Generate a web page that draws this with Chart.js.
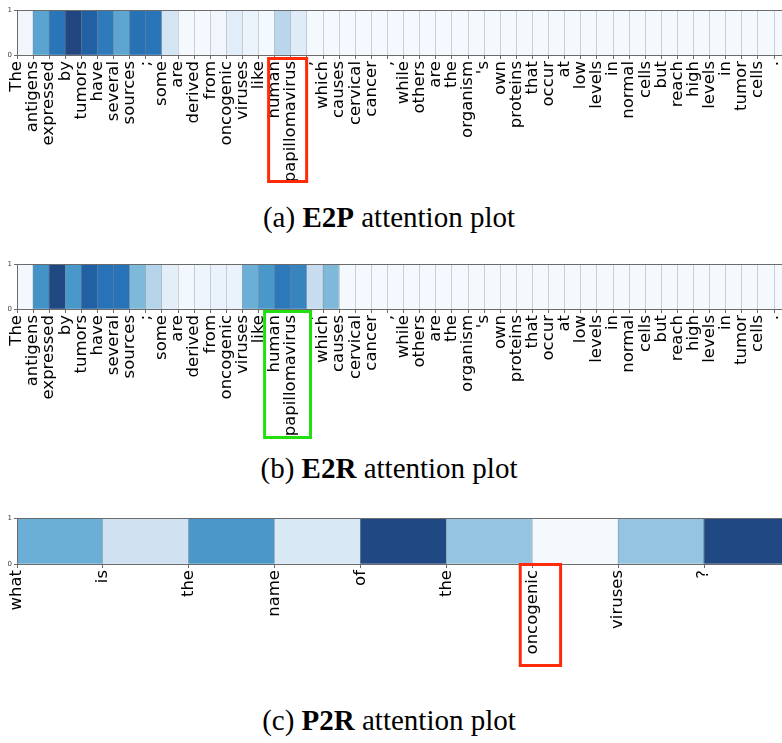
<!DOCTYPE html>
<html>
<head>
<meta charset="utf-8">
<script src="https://cdn.jsdelivr.net/npm/chart.js@4/dist/chart.umd.min.js"></script>
<style>
  html, body { margin: 0; padding: 0; background: #fff; }
  #wrap { position: relative; width: 782px; height: 743px; overflow: hidden; }
  canvas { position: absolute; left: 0; }
  .cap {
    position: absolute; left: 0; width: 778px; height: 30px; line-height: 30px;
    text-align: center; font-family: "Liberation Serif", "Times New Roman", serif;
    font-size: 29px; color: #000; white-space: nowrap;
  }
</style>
</head>
<body>
<div id="wrap">
  <canvas id="chartE2P" width="782" height="195" style="top:0px"></canvas>
  <div class="cap" style="top:202px">(a) <b>E2P</b> attention plot</div>
  <canvas id="chartE2R" width="782" height="195" style="top:254px"></canvas>
  <div class="cap" style="top:453px">(b) <b>E2R</b> attention plot</div>
  <canvas id="chartP2R" width="782" height="170" style="top:509px"></canvas>
  <div class="cap" style="top:705px">(c) <b>P2R</b> attention plot</div>
</div>
<script>
// Tokens of the evidence passage and of the question
const passageTokens = ["The", "antigens", "expressed", "by", "tumors", "have", "several", "sources", ";", "some",
  "are", "derived", "from", "oncogenic", "viruses", "like", "human", "papillomavirus", ",", "which",
  "causes", "cervical", "cancer", ",", "while", "others", "are", "the", "organism", "'s",
  "own", "proteins", "that", "occur", "at", "low", "levels", "in", "normal", "cells",
  "but", "reach", "high", "levels", "in", "tumor", "cells", "."];
const questionTokens = ["what", "is", "the", "name", "of", "the", "oncogenic", "viruses", "?"];

// Attention weight per token (0..1)
const e2pWeights = [0.03, 0.55, 0.74, 0.98, 0.84, 0.72, 0.54, 0.76, 0.74, 0.18,
  0.01, 0.01, 0.03, 0.11, 0.05, 0.01, 0.29, 0.12, 0.01, 0.01,
  0.01, 0.01, 0.01, 0.01, 0.01, 0.01, 0.01, 0.01, 0.01, 0.01,
  0.01, 0.01, 0.01, 0.01, 0.01, 0.01, 0.01, 0.01, 0.01, 0.01,
  0.01, 0.01, 0.01, 0.01, 0.01, 0.01, 0.01, 0.01];
const e2rWeights = [0.02, 0.62, 0.97, 0.60, 0.84, 0.75, 0.75, 0.45, 0.30, 0.10,
  0.02, 0.04, 0.06, 0.06, 0.50, 0.60, 0.73, 0.68, 0.24, 0.45,
  0.01, 0.01, 0.01, 0.01, 0.01, 0.01, 0.01, 0.01, 0.01, 0.01,
  0.01, 0.01, 0.01, 0.01, 0.01, 0.01, 0.01, 0.01, 0.01, 0.01,
  0.01, 0.01, 0.01, 0.01, 0.01, 0.01, 0.01, 0.01];
const p2rWeights = [0.50, 0.20, 0.60, 0.15, 0.97, 0.40, 0.01, 0.40, 0.97];

const yTickValues = [0, 1];

// Sequential blue colour scale
const blueStops = [
  [0.000, 246, 250, 254], [0.125, 222, 235, 247], [0.250, 198, 219, 239],
  [0.375, 158, 202, 225], [0.500, 107, 174, 214], [0.625, 66, 146, 198],
  [0.750, 40, 115, 183], [0.875, 30, 88, 155], [1.000, 33, 67, 123]
];
function blues(v) {
  v = Math.max(0, Math.min(1, v));
  for (let i = 1; i < blueStops.length; i++) {
    const a = blueStops[i - 1], b = blueStops[i];
    if (v <= b[0]) {
      const t = (v - a[0]) / (b[0] - a[0]);
      const c = [1, 2, 3].map(k => Math.round(a[k] + (b[k] - a[k]) * t));
      return `rgb(${c[0]},${c[1]},${c[2]})`;
    }
  }
  return 'rgb(33,67,123)';
}

// Outlined token group under the axis
const tokenBox = {
  id: 'tokenBox',
  afterDraw(chart, args, opts) {
    if (!opts || opts.from == null) return;
    const { ctx, chartArea } = chart;
    const x = chart.scales.x;
    const x0 = x.getPixelForValue(opts.from);
    const x1 = x.getPixelForValue(opts.to);
    ctx.save();
    ctx.strokeStyle = opts.color;
    ctx.lineWidth = 3;
    ctx.strokeRect(x0, chartArea.bottom + opts.gap, x1 - x0, opts.depth);
    ctx.restore();
  }
};

function strip(canvasId, tokens, weights, xMax, canvasHeight, plotTop, plotBottom, box) {
  const axisColor = '#6b6b6b';
  return new Chart(document.getElementById(canvasId), {
    type: 'bar',
    data: {
      datasets: [{
        data: weights.map((w, i) => ({ x: i + 0.5, y: 1 })),
        backgroundColor: weights.map(blues),
        borderWidth: 0,
        barPercentage: 1,
        categoryPercentage: 1,
        xAxisID: 'x',
        yAxisID: 'y'
      }]
    },
    plugins: [tokenBox],
    options: {
      responsive: false,
      animation: false,
      events: [],
      layout: { padding: { top: plotTop, left: 0, right: 0, bottom: 0 } },
      plugins: {
        legend: { display: false },
        tooltip: { enabled: false },
        tokenBox: box
      },
      scales: {
        x: {
          type: 'linear',
          position: 'bottom',
          offset: false,
          min: 0,
          max: xMax,
          afterBuildTicks(s) { s.ticks = tokens.map((t, i) => ({ value: i })); },
          ticks: {
            autoSkip: false,
            minRotation: 90,
            maxRotation: 90,
            padding: 2,
            color: '#000',
            font: { family: 'DejaVu Sans', size: 16.5 },
            callback: (v) => tokens[v]
          },
          grid: {
            z: 1,
            offset: false,
            color: 'rgba(140,140,150,0.38)',
            tickColor: axisColor,
            tickLength: 4,
            lineWidth: 1
          },
          border: { display: true, color: axisColor, width: 1, z: 2 },
          afterFit(s) {
            s.height = canvasHeight - plotBottom;
            s.paddingLeft = 0;
            s.paddingRight = 0;
          }
        },
        xTop: {
          type: 'linear',
          position: 'top',
          offset: false,
          min: 0,
          max: xMax,
          grid: { display: false, offset: false },
          ticks: { display: false },
          border: { display: true, color: axisColor, width: 1, z: 2 },
          afterFit(s) { s.height = 0; s.paddingLeft = 0; s.paddingRight = 0; }
        },
        y: {
          type: 'linear',
          min: 0,
          max: 1,
          afterBuildTicks(s) { s.ticks = yTickValues.map(v => ({ value: v })); },
          ticks: {
            padding: 2,
            color: '#444',
            font: { family: 'DejaVu Sans', size: 7 }
          },
          grid: { drawOnChartArea: false, tickLength: 3, tickColor: axisColor },
          border: { display: true, color: axisColor, width: 1, z: 2 },
          afterFit(s) { s.width = 17; s.paddingTop = 0; s.paddingBottom = 0; }
        }
      }
    }
  });
}

strip('chartE2P', passageTokens, e2pWeights, 47.49, 195, 10, 55,
  { from: 15.62, to: 17.98, gap: 3.5, depth: 123, color: '#ff2a0a' });
strip('chartE2R', passageTokens, e2rWeights, 47.49, 195, 10, 55,
  { from: 15.37, to: 18.22, gap: 2.5, depth: 126, color: '#22e010' });
strip('chartP2R', questionTokens, p2rWeights, 8.908, 170, 9, 55,
  { from: 5.86, to: 6.33, gap: 0.5, depth: 101, color: '#ff2a0a' });
</script>
</body>
</html>
